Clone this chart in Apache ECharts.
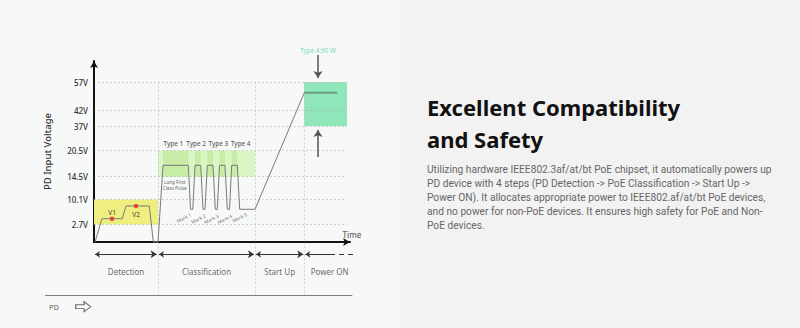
<!DOCTYPE html>
<html><head><meta charset="utf-8">
<script src="https://cdn.jsdelivr.net/npm/echarts@6/dist/echarts.min.js"></script>
<style>
html,body{margin:0;padding:0;width:800px;height:328px;overflow:hidden;
background:linear-gradient(to right,#f7f8f8 0,#f7f8f8 400px,#f2f2f2 400px,#f2f2f2 800px);
font-family:'Noto Sans',sans-serif;}
#chart{position:absolute;left:0;top:0;width:800px;height:328px;}
#title{position:absolute;left:427px;top:91px;font-size:22px;font-weight:700;line-height:32px;color:#111;white-space:nowrap;}
#body{position:absolute;left:427px;top:163px;font-family:Roboto,'Noto Sans',sans-serif;font-size:10.2px;line-height:14px;color:#666;white-space:nowrap;}
</style></head>
<body>
<div id="chart"></div>
<div id="title"></div>
<div id="body"></div>
<script>
// ---- data ----
const yTickLabels = ['2.7V','10.1V','14.5V','20.5V','37V','42V','57V'];
const yTickLevels = [17.6, 42.5, 65.3, 91.3, 116, 132, 159.7];
const phaseNames = ['Detection','Classification','Start Up','Power ON'];
const phaseEdges = [0, 64, 161, 210.3, 261];
const gridRightX = 253;
const sepLevel = -53.3;
const waveform = [[1,0],[8,23.3],[28.3,23.3],[32,36],[55.3,36],[59.3,0],[64,0],[69,76.7],[94.3,76.7],
  [96.5,32.7],[98.8,32.7],[101,76.7],[106.7,76.7],[109,32.7],[111,32.7],[113.3,76.7],[119,76.7],
  [121.3,32.7],[123.3,32.7],[125.5,76.7],[131,76.7],[133.3,32.7],[135.5,32.7],[137.7,76.7],[143.3,76.7],
  [145.7,32.7],[161,32.7],[210.3,149.3]];
const powerLevel = [[210.3,149.3],[243.3,149.3]];
const vNames = ['V1','V2'];
const vPoints = [[18,23.3],[42,36]];
const vLabelPos = [[18,29.5],[42,28]];
const typeNames = ['Type 1','Type 2','Type 3','Type 4'];
const typeX = [79.3, 102, 124.3, 146.7];
const typeY = 99;
const markNames = ['Mark 1','Mark 2','Mark 3','Mark 4','Mark 5'];
const markPos = [[89.8,24.2],[104.3,23.2],[117.3,23],[130.7,23],[145.5,24.5]];
const classStripes = [[69,94.3],[101,106.7],[113.3,119],[125.5,131],[137.7,143.3]];
const powerNote = 'Type 4:90 W';
const titleLines = ['Excellent Compatibility','and Safety'];
const bodyLines = [
 'Utilizing hardware IEEE802.3af/at/bt PoE chipset, it automatically powers up',
 'PD device with 4 steps (PD Detection -> PoE Classification -> Start Up ->',
 'Power ON). It allocates appropriate power to IEEE802.af/at/bt PoE devices,',
 'and no power for non-PoE devices. It ensures high safety for PoE and Non-',
 'PoE devices.'];

document.getElementById('title').innerHTML = titleLines.join('<br>');
document.getElementById('body').innerHTML = bodyLines.map(s=>s.replace(/&/g,'&amp;').replace(/</g,'&lt;').replace(/>/g,'&gt;')).join('<br>');

const FONT = 'Noto Sans';
const lv = l => yTickLevels[yTickLabels.indexOf(l)];
const GRID = {type:[2,2], color:'#ababab', width:1};

const boxes = [
  {x:[phaseEdges[0],phaseEdges[1]], y:['2.7V','10.1V'], color:'#efee80'},
  {x:[phaseEdges[1],phaseEdges[2]], y:['14.5V','20.5V'], color:'#daf6c4'},
  {x:[phaseEdges[3],gridRightX], y:['37V','57V'], color:'#8ee6b9'}
];
const areaData = boxes.map(b=>[{coord:[b.x[0],lv(b.y[0])], itemStyle:{color:b.color}},{coord:[b.x[1],lv(b.y[1])]}]);
classStripes.forEach(s=>areaData.push([{coord:[s[0],lv('14.5V')], itemStyle:{color:'#c8eca6'}},{coord:[s[1],lv('20.5V')]}]));

const gridLines = yTickLevels.map(l=>({coords:[[0,l],[gridRightX,l]]}));
const vLines = phaseEdges.slice(1,4).map(x=>({coords:[[x,lv('57V')],[x,sepLevel]]}));
const arrowY = -12.3;
const phaseArrows = [[1,62.7],[65,160],[162,209.3]].map(s=>({coords:[[s[0],arrowY],[s[1],arrowY]]}));

const textItems = [];
function addText(x,y,text,opt){ textItems.push({value:[x,y], label:Object.assign({show:true, formatter:text, fontFamily:FONT, color:'#333', fontSize:8}, opt||{})}); }
vNames.forEach((n,i)=>addText(vLabelPos[i][0], vLabelPos[i][1], n, {fontSize:6.5, fontWeight:500}));
typeNames.forEach((n,i)=>addText(typeX[i], typeY, n, {fontSize:6.3, fontWeight:500}));
markNames.forEach((n,i)=>addText(markPos[i][0], markPos[i][1], n, {fontSize:4.8, rotate:27, color:'#444'}));
addText(80.7, 57.2, 'Long First\nClass Pulse', {fontSize:4.6, lineHeight:6.3, color:'#333'});
addText(224, 192, powerNote, {fontSize:6.3, color:'#52d49b'});
addText(258, 7.7, 'Time', {fontSize:8, fontWeight:500});
phaseNames.forEach((n,i)=>addText((phaseEdges[i]+phaseEdges[i+1])/2, -29.3, n, {fontSize:8, color:'#444'}));
addText(-40, -64.7, 'PD', {fontSize:7.5, color:'#333'});

const chart = echarts.init(document.getElementById('chart'), null, {renderer:'svg'});
chart.setOption({
  animation:false,
  textStyle:{fontFamily:FONT},
  grid:{left:94, top:61, width:256, height:181},
  xAxis:{type:'value', min:0, max:256,
    axisLine:{show:true, symbol:['none','arrow'], symbolSize:[6,7], lineStyle:{color:'#111', width:2}},
    axisTick:{show:false}, axisLabel:{show:false}, splitLine:{show:false}},
  yAxis:{type:'value', min:0, max:181,
    name:'PD Input Voltage', nameLocation:'middle', nameGap:42,
    nameTextStyle:{fontFamily:FONT, fontSize:9.5, color:'#333', fontWeight:500},
    axisLine:{show:true, symbol:['none','arrow'], symbolSize:[6,7], lineStyle:{color:'#111', width:2}},
    axisTick:{show:false}, splitLine:{show:false},
    axisLabel:{customValues:yTickLevels, fontFamily:FONT, fontSize:8, color:'#333', fontWeight:500, margin:6,
      formatter:v=>{const i=yTickLevels.findIndex(l=>Math.abs(l-v)<0.01); return i<0?'':yTickLabels[i];}}},
  series:[
    {type:'line', data:[], silent:true, z:1, markArea:{silent:true, data:areaData}},
    {type:'lines', coordinateSystem:'cartesian2d', clip:false, silent:true, z:2, symbol:'none', lineStyle:GRID, data:gridLines},
    {type:'lines', coordinateSystem:'cartesian2d', clip:false, silent:true, z:2, symbol:'none', lineStyle:GRID, data:vLines},
    {type:'line', data:waveform, clip:false, silent:true, z:5, symbol:'none', lineStyle:{color:'#7a7a7a', width:1}},
    {type:'line', data:powerLevel, clip:false, silent:true, z:5, symbol:'none', lineStyle:{color:'#6d9c83', width:2}},
    {type:'scatter', data:vPoints, clip:false, silent:true, z:6, symbolSize:4.5, itemStyle:{color:'#e8242a'}},
    {type:'scatter', data:textItems, clip:false, silent:true, z:7, symbolSize:0, label:{show:true, position:'inside'}},
    {type:'lines', coordinateSystem:'cartesian2d', clip:false, silent:true, z:6, symbol:['arrow','arrow'], symbolSize:[5,6],
      lineStyle:{color:'#333', width:1, opacity:1}, data:phaseArrows},
    {type:'lines', coordinateSystem:'cartesian2d', clip:false, silent:true, z:6, symbol:['arrow','none'], symbolSize:[5,6],
      lineStyle:{color:'#333', width:1, opacity:1}, data:[{coords:[[phaseEdges[3]+1,arrowY],[236,arrowY]]}]},
    {type:'lines', coordinateSystem:'cartesian2d', clip:false, silent:true, z:6, symbol:'none',
      lineStyle:{color:'#333', width:1, opacity:1, type:[5,4]}, data:[{coords:[[236,arrowY],[phaseEdges[4],arrowY]]}]},
    {type:'lines', coordinateSystem:'cartesian2d', clip:false, silent:true, z:6, symbol:['none','arrow'], symbolSize:[6,7],
      lineStyle:{color:'#555', width:1.5, opacity:1}, data:[{coords:[[224,187],[224,164]]},{coords:[[224,85],[224,112]]}]},
    {type:'lines', coordinateSystem:'cartesian2d', clip:false, silent:true, z:6, symbol:'none',
      lineStyle:{color:'#7d7d7d', width:1, opacity:1}, data:[{coords:[[-49,sepLevel],[258.3,sepLevel]]}]},
    {type:'scatter', data:[[-10.8,-64.7]], clip:false, silent:true, z:6,
      symbol:'path://M0,4 L9,4 L9,0 L16,6.5 L9,13 L9,9 L0,9 Z', symbolSize:[15,10], symbolKeepAspect:false,
      itemStyle:{color:'#fafafa', borderColor:'#444', borderWidth:1}}
  ]
});
</script>
</body></html>
